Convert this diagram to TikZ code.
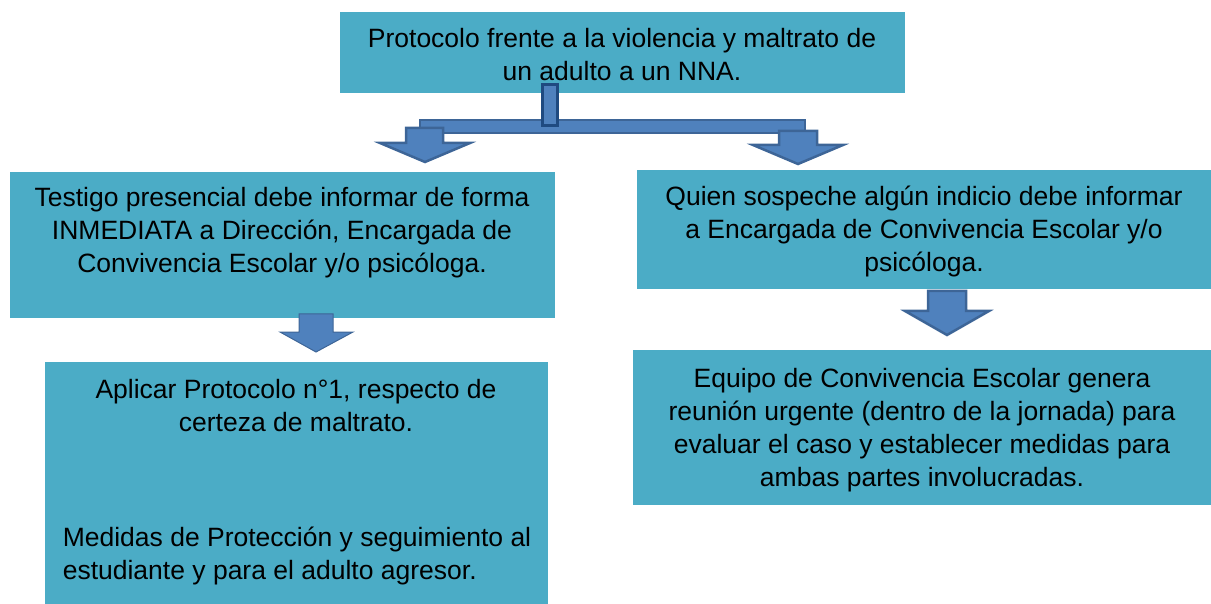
\documentclass[tikz,border=0pt]{standalone}
\usepackage{fontspec}
\setmainfont{Liberation Sans}
\definecolor{boxfill}{HTML}{4BACC6}
\definecolor{arrowfill}{HTML}{4F81BD}
\definecolor{arrowline}{HTML}{3D6597}
\definecolor{barline}{HTML}{1F4A80}

\begin{document}
\begin{tikzpicture}[x=1pt,y=-1pt,
  box/.style={fill=boxfill, draw=none, inner sep=0pt},
  txt/.style={inner sep=0pt, align=center, font=\fontsize{26.5}{33}\selectfont},
  blockarrow/.style={fill=arrowfill, draw=arrowline, line width=2.5pt, line join=miter}]
\useasboundingbox (0,0) rectangle (1211,604);

% boxes
\node [box, minimum width=565, minimum height=81] (protocolo) at (622.5,52.5) {};
\node [txt] (protocolotxt) at (622,55) {Protocolo frente a la violencia y maltrato de\\un adulto a un NNA.};

\node [box, minimum width=545, minimum height=146] (testigo) at (282.5,245) {};
\node [txt] (testigotxt) at (282,233) {Testigo presencial debe informar de forma\\INMEDIATA a Dirección, Encargada de\\Convivencia Escolar y/o psicóloga.};

\node [box, minimum width=574, minimum height=119] (sospecha) at (924,229.5) {};
\node [txt] (sospechatxt) at (924,231) {Quien sospeche algún indicio debe informar\\a Encargada de Convivencia Escolar y/o\\psicóloga.};

\node [box, minimum width=503, minimum height=242] (aplicar) at (296.5,483) {};
\node [txt] (aplicartxt) at (296,406) {Aplicar Protocolo n°1, respecto de\\certeza de maltrato.};
\node [txt, align=left] (medidastxt) at (297,556) {Medidas de Protección y seguimiento al\\estudiante y para el adulto agresor.};

\node [box, minimum width=578, minimum height=155] (equipo) at (922,427.5) {};
\node [txt] (equipotxt) at (922,430) {Equipo de Convivencia Escolar genera\\reunión urgente (dentro de la jornada) para\\evaluar el caso y establecer medidas para\\ambas partes involucradas.};

% connector from the top box
\draw [blockarrow, line width=1.5pt] (420,120) rectangle (805,133);
\draw [blockarrow, draw=barline, line width=3pt] (542,85) rectangle (557,126);
\draw [blockarrow] (406,128) -- (443,128) -- (443,143) -- (470,143) -- (425,162)
  -- (380,143) -- (406,143) -- cycle;
\draw [blockarrow] (779,131) -- (817,131) -- (817,145) -- (843,145) -- (798,164)
  -- (753,145) -- (779,145) -- cycle;

% second row arrows
\draw [blockarrow, line width=1pt] (299,314) -- (333,314) -- (333,332) -- (353,332) -- (316,352)
  -- (280,332) -- (299,332) -- cycle;
\draw [blockarrow] (928,291) -- (966,291) -- (966,311) -- (989,311) -- (947,335)
  -- (905,311) -- (928,311) -- cycle;
\end{tikzpicture}
\end{document}
